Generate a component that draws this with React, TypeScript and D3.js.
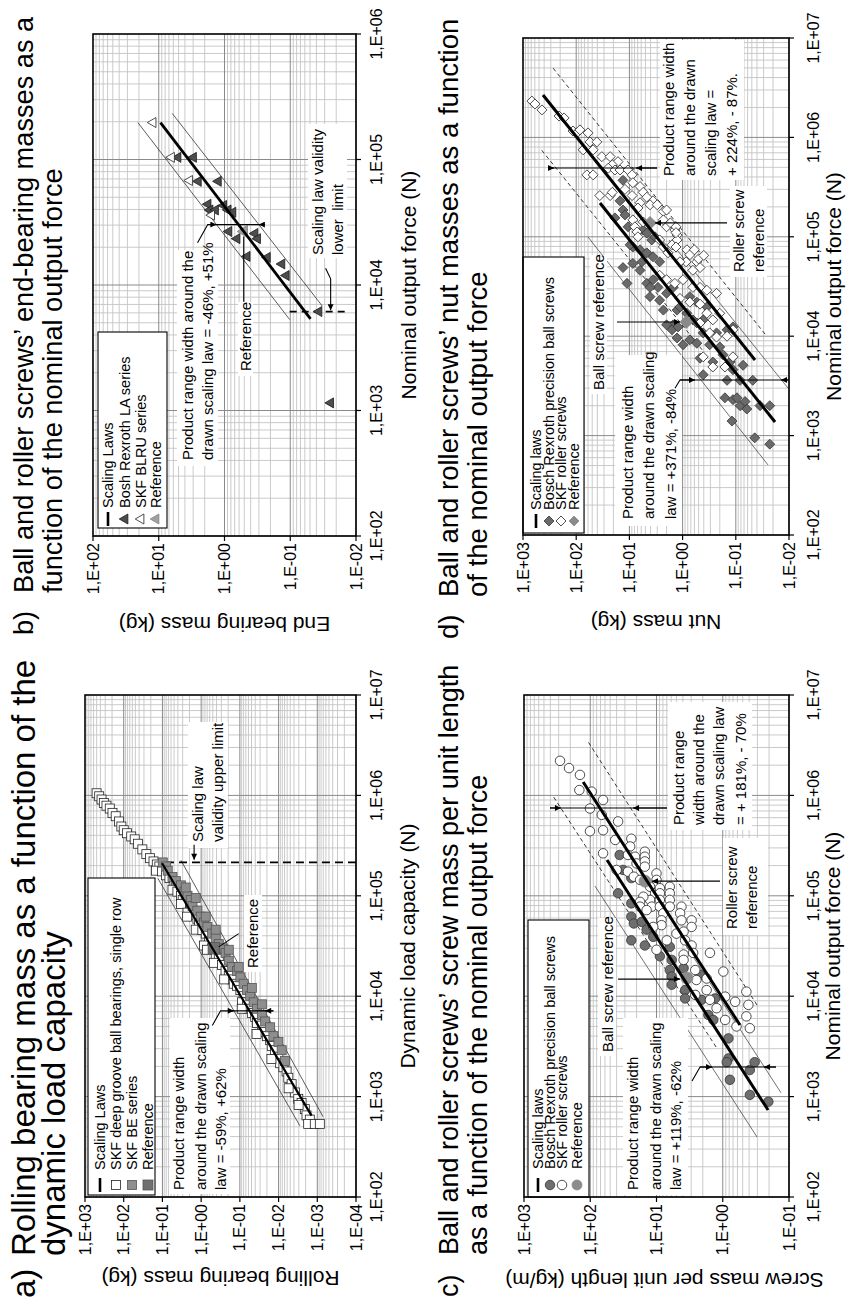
import React from 'react';
import * as d3 from 'd3';

type Pt = [number, number]; // [force (N), mass]

// ---------------- Panel a : rolling bearings ----------------
const aLaw: Pt[] = [[646, 0.00141], [2.11e5, 10.2]];
const aBandUpper: Pt[] = [[511, 0.00281], [1.5e5, 13.2]];
const aBandLower: Pt[] = [[631, 0.00071], [2.26e5, 3.33]];
const aValidity: Pt[] = [[2.15e5, 8.1], [2.15e5, 1e-4]];
const aDeepGroove: Pt[] = [
  [1.05e6, 502], [9.8e5, 430], [9.1e5, 374], [8.4e5, 326], [7.9e5, 279], [7.4e5, 229], [6.7e5, 195],
  [6.2e5, 161], [5.5e5, 132], [4.9e5, 115], [4.5e5, 100], [4.2e5, 82], [3.9e5, 64], [3.65e5, 52],
  [3.3e5, 43], [2.9e5, 33], [2.6e5, 26], [2.37e5, 21], [2.2e5, 17], [2.05e5, 14], [1.96e5, 12],
  [1.78e5, 14.6], [1.75e5, 10.2], [1.6e5, 8.1], [1.5e5, 6.6], [1.33e5, 4.9], [1.15e5, 5.5], [1.1e5, 4.1],
  [1.0e5, 3.3], [9.1e4, 3.0], [8.7e4, 2.5], [8.3e4, 3.3], [7.9e4, 1.85], [6.8e4, 2.25], [6.5e4, 1.52],
  [5.9e4, 1.25], [5.1e4, 1.13], [4.6e4, 1.38], [4.55e4, 0.93], [4.2e4, 0.76], [3.5e4, 0.63], [3.2e4, 0.84],
  [3.0e4, 0.52], [2.6e4, 0.42], [2.37e4, 0.35], [2.15e4, 0.47], [2.05e4, 0.29], [1.78e4, 0.234],
  [1.6e4, 0.193], [1.47e4, 0.158], [1.33e4, 0.144], [1.27e4, 0.118], [1.15e4, 0.097], [1.0e4, 0.08],
  [8.7e3, 0.088], [8.7e3, 0.065], [7.5e3, 0.059], [6.8e3, 0.049], [6.2e3, 0.04], [5.4e3, 0.036],
  [5.1e3, 0.027], [4.4e3, 0.0244], [4.0e3, 0.0201], [3.65e3, 0.0165], [3.2e3, 0.015], [2.9e3, 0.0123],
  [2.5e3, 0.0101], [2.15e3, 0.0091], [1.96e3, 0.0075], [1.78e3, 0.0062], [1.54e3, 0.0056], [1.33e3, 0.0046],
  [1.1e3, 0.0038], [950, 0.0031], [865, 0.00255], [750, 0.0021], [650, 0.0019], [590, 0.00156],
  [535, 0.00172], [535, 0.00116], [535, 0.00086], [6.2e4, 2.3], [2.9e4, 0.71], [1.47e4, 0.254],
  [7.5e3, 0.0895], [4.2e3, 0.037], [2.37e3, 0.0153], [1.21e3, 0.0055], [826, 0.00304],
];
const aBE: Pt[] = [
  [2.15e5, 9.8], [1.96e5, 8.1], [1.78e5, 7.3], [1.54e5, 5.5], [1.4e5, 4.5], [1.27e5, 3.3], [1.1e5, 2.7],
  [1.0e5, 2.25], [9.1e4, 1.85], [7.9e4, 1.67], [7.1e4, 1.25], [6.2e4, 1.03], [5.4e4, 0.84], [4.9e4, 0.69],
  [4.2e4, 0.52], [3.8e4, 0.42], [3.3e4, 0.35], [3.0e4, 0.29], [2.7e4, 0.234], [2.26e4, 0.193],
  [1.96e4, 0.158], [1.78e4, 0.118], [1.54e4, 0.097], [1.33e4, 0.08], [1.15e4, 0.065], [1.0e4, 0.054],
  [8.7e3, 0.044], [7.5e3, 0.036], [6.5e3, 0.027], [5.6e3, 0.0222], [4.9e3, 0.0165], [4.0e3, 0.0136],
  [3.5e3, 0.0101], [2.9e3, 0.0083], [2.26e3, 0.0068], [1.21e5, 2.5], [9.5e4, 1.38], [6.2e4, 0.76],
  [4.6e4, 0.42], [2.9e4, 0.193], [1.96e4, 0.107], [1.21e4, 0.049], [8.3e3, 0.027],
];
const aReference: Pt[] = [[3.0e4, 0.47]];

// ---------------- Panel b : end bearings ----------------
const bLaw: Pt[] = [[5380, 0.0492], [1.97e5, 9.42]];
const bBandUpper: Pt[] = [[5.3e3, 0.102], [1.97e5, 20.8]];
const bBandLower: Pt[] = [[6.8e3, 0.0326], [2.33e5, 6.24]];
const bValidity: Pt[] = [[6.14e3, 0.102], [6.14e3, 0.0127]];
const bBosch: Pt[] = [
  [1.04e5, 5.1], [1.04e5, 2.96], [6.7e4, 2.5], [6.7e4, 1.24], [4.4e4, 1.78], [3.96e4, 1.66], [3.96e4, 1.37],
  [4.3e4, 1.03], [3.96e4, 0.88], [3.8e4, 0.745], [2.67e4, 0.857], [2.34e4, 0.645], [2.57e4, 0.345],
  [2.34e4, 0.314], [1.69e4, 0.453], [1.66e4, 0.223], [1.47e4, 0.134], [1.19e4, 0.115], [6.14e3, 0.0366],
  [1.15e3, 0.0243],
];
const bSKF: Pt[] = [[1.97e5, 12.2], [1.04e5, 6.4], [6.8e4, 3.4], [3.6e4, 1.57]];
const bReference: Pt[] = [[2.67e4, 0.505]];

// ---------------- Panel c : screw mass per unit length ----------------
const cLawRoller: Pt[] = [[5.16e3, 0.55], [1.36e6, 128]];
const cLawBall: Pt[] = [[736, 0.207], [2.27e5, 55.8]];
const cRollerUpper: Pt[] = [[3.12e3, 1.26], [9.86e5, 365]];
const cRollerLower: Pt[] = [[8.17e3, 0.304], [3.56e6, 112]];
const cBallUpper: Pt[] = [[396, 0.304], [1.25e5, 84.7]];
const cBallLower: Pt[] = [[1.09e3, 0.132], [4.56e4, 5.08]];
const cSKF: Pt[] = [
  [2.21e6, 286], [1.87e6, 209], [1.6e6, 143], [1.13e6, 146], [1.09e6, 95], [7.4e5, 101], [9.0e5, 64],
  [6.4e5, 67], [4.4e5, 101], [4.5e5, 64], [2.65e5, 64], [5.5e5, 38], [3.6e5, 42], [3.7e5, 24], [3.1e5, 25],
  [1.81e5, 40], [2.55e5, 27], [2.45e5, 21], [2.1e5, 20], [2.75e5, 15], [2.45e5, 15], [2.2e5, 15],
  [1.95e5, 15], [1.74e5, 27], [1.55e5, 22], [1.44e5, 17.7], [1.67e5, 10], [1.44e5, 10], [1.23e5, 10],
  [1.23e5, 12.5], [1.06e5, 10.5], [9.1e4, 12.5], [7.8e4, 11.8], [1.19e5, 8.9], [1.06e5, 8.9], [9.1e4, 8.9],
  [7.8e4, 8.9], [1.23e5, 6.3], [1.06e5, 6.3], [9.1e4, 6.3], [7.8e4, 6.3], [6.7e4, 7.9], [5.7e4, 8.4],
  [5.1e4, 8.4], [4.9e4, 11.2], [9.8e4, 15.8], [8.7e4, 17.7], [7.8e4, 17.7], [7.2e4, 14.1], [7.8e4, 4.2],
  [6.7e4, 4.4], [5.7e4, 4.2], [5.7e4, 2.95], [4.9e4, 2.95], [4.4e4, 3.9], [3.6e4, 3.7], [4.2e4, 5.0],
  [3.6e4, 7.0], [3.2e4, 2.95], [2.6e4, 3.9], [2.3e4, 3.9], [2.7e4, 2.8], [2.7e4, 1.56], [1.82e4, 2.6],
  [1.45e4, 2.5], [1.5e4, 1.75], [1.03e4, 2.6], [1.15e4, 1.75], [9.2e3, 1.56], [1.76e4, 0.98], [9.9e3, 0.92],
  [7.6e3, 1.24], [8.8e3, 0.65], [1.11e4, 0.44], [8.2e3, 0.41], [6.3e3, 0.44], [4.8e3, 0.39], [5.0e3, 0.62],
  [5.8e3, 0.92], [2.9e4, 10],
];
const cBosch: Pt[] = [
  [2.55e5, 36], [1.81e5, 32], [1.5e5, 24], [1.06e5, 38], [8.4e4, 24], [6.2e4, 24], [5.3e4, 22], [3.6e4, 24],
  [5.5e4, 16.7], [4.6e4, 14.1], [3.2e4, 15], [3.9e4, 11.2], [2.5e4, 8.9], [3.1e4, 6.3], [2.3e4, 5.9],
  [1.82e4, 6.3], [1.57e4, 5.9], [1.3e4, 5.9], [1.9e4, 3.9], [1.15e4, 3.7], [9.5e3, 3.7], [1.63e4, 2.2],
  [9.2e3, 2.1], [6.5e3, 1.65], [5.8e3, 1.39], [9.5e3, 1.31], [3.8e3, 0.82], [2.4e3, 0.82], [2.2e3, 0.87],
  [1.47e3, 0.78], [1.84e3, 0.39], [2.2e3, 0.33], [1.04e3, 0.39], [890, 0.205],
];
const cReference: Pt[] = [[1.52e4, 3.47], [1.4e5, 14.9]];

// ---------------- Panel d : nut masses ----------------
const dLawRoller: Pt[] = [[5.77e3, 0.0436], [2.67e6, 421]];
const dLawBall: Pt[] = [[1.37e3, 0.0183], [2.19e5, 35.7]];
const dRollerLower: Pt[] = [[1.05e4, 0.0282], [4.99e6, 273]];
const dRollerUpper: Pt[] = [[7.3e3, 0.43], [7.8e5, 479]];
const dBallUpper: Pt[] = [[507, 0.0248], [9.95e4, 60]];
const dBallLower: Pt[] = [[3.0e3, 0.0104], [9.3e4, 1.8]];
const dSKF: Pt[] = [
  [2.32e6, 680], [2.17e6, 595], [1.89e6, 440], [1.64e6, 210], [1.57e6, 169], [1.16e6, 115], [1.11e6, 97],
  [1.19e6, 85], [1.11e6, 60], [9.0e5, 55], [9.0e5, 41], [7.5e5, 74], [7.5e5, 48], [6.4e5, 33], [6.4e5, 23],
  [5.7e5, 16.4], [5.3e5, 21], [4.9e5, 25], [4.7e5, 18.7], [4.7e5, 15], [4.7e5, 10.6], [4.2e5, 8.9],
  [4.2e5, 63], [4.2e5, 48], [2.6e5, 36], [2.6e5, 23], [2.8e5, 21], [3.5e5, 8.6], [3.2e5, 6.3], [2.8e5, 5.5],
  [3.0e5, 12.1], [2.6e5, 8.9], [2.5e5, 4.7], [2.3e5, 3.6], [2.1e5, 4.1], [2.1e5, 3.0], [1.8e5, 2.3],
  [1.86e5, 2.0], [2.2e5, 6.3], [1.95e5, 6.9], [1.48e5, 8.6], [1.26e5, 7.9], [1.12e5, 7.2], [1.0e5, 6.9],
  [1.41e5, 5.5], [1.48e5, 2.3], [1.26e5, 2.0], [1.38e5, 1.7], [1.17e5, 1.4], [1.04e5, 1.27], [9.3e4, 1.27],
  [8.3e4, 1.58], [7.9e4, 2.3], [6.9e4, 1.88], [9.3e4, 2.7], [7.4e4, 0.83], [6.6e4, 0.73], [5.6e4, 0.86],
  [5.6e4, 0.54], [4.9e4, 0.47], [4.6e4, 0.64], [5.6e4, 1.12], [4.1e4, 2.7], [3.7e4, 2.0], [3.4e4, 1.4],
  [3.7e4, 0.98], [3.1e4, 0.64], [3.1e4, 0.47], [2.9e4, 0.35], [2.7e4, 0.23], [2.4e4, 1.12], [2.2e4, 0.73],
  [2.1e4, 0.47], [1.7e4, 0.35], [1.46e4, 0.27], [1.7e4, 0.2], [1.36e4, 0.47], [1.08e4, 0.31], [9.8e3, 0.23],
  [1.0e4, 0.146], [1.16e4, 0.113], [6.2e3, 0.41], [4.9e3, 0.27], [4.9e3, 0.16], [6.2e3, 0.113],
  [1.26e5, 1.33], [1.1e5, 1.33], [7.9e4, 1.33], [7.4e4, 0.6], [6.0e4, 0.5], [6.5e4, 0.4],
];
const dBosch: Pt[] = [
  [3.7e5, 13.2], [2.3e5, 15], [1.86e5, 13.2], [1.66e5, 12.1], [1.17e5, 5.5], [1.09e5, 4.7], [9.3e4, 3.8],
  [1.0e5, 3.3], [7.9e4, 8.6], [7.4e4, 6.3], [6.9e4, 4.7], [6.3e4, 3.6], [5.6e4, 2.7], [4.6e4, 6.3],
  [3.4e4, 4.7], [3.7e4, 3.6], [3.1e4, 2.9], [2.7e4, 2.0], [3.1e4, 1.5], [2.5e4, 4.1], [5.4e4, 8.6],
  [4.9e4, 13.2], [3.4e4, 11.1], [1.83e4, 1.27], [1.97e4, 1.12], [1.7e4, 0.83], [1.46e4, 0.64], [1.3e4, 1.5],
  [1.3e4, 2.0], [1.16e4, 1.58], [1.24e4, 1.22], [1.36e4, 0.54], [1.46e4, 0.41], [9.2e3, 0.73], [8.5e3, 0.54],
  [9.6e3, 1.27], [8.2e3, 0.98], [1.08e4, 0.41], [8.2e3, 0.31], [1.08e4, 0.23], [1.16e4, 0.146],
  [1.24e4, 0.113], [6.0e3, 0.47], [5.5e3, 0.27], [6.5e3, 0.174], [5.5e3, 0.128], [4.6e3, 0.113],
  [3.6e3, 0.146], [3.6e3, 0.083], [3.6e3, 0.048], [2.4e3, 0.16], [2.3e3, 0.113], [2.4e3, 0.095],
  [2.0e3, 0.083], [2.2e3, 0.067], [1.85e3, 0.062], [2.0e3, 0.035], [2.0e3, 0.023], [1.4e3, 0.118],
  [950, 0.044], [820, 0.023], [8.3e4, 9.7], [5.6e4, 5.8], [3.1e4, 4.1], [2.3e4, 2.7], [1.83e4, 2.3],
  [2.5e4, 0.73], [2.2e4, 0.54], [1.97e4, 0.35], [7.8e3, 0.2], [5.1e3, 0.073], [1.55e5, 18.7], [1.26e5, 10.6],
  [4.1e3, 0.41],
];
const dReference: Pt[] = [[1.38e5, 4.1], [1.39e4, 0.85]];

// ---------------- rendering ----------------
const FONT = "'Liberation Sans', Arial, Helvetica, sans-serif";

type Shape = 'square' | 'triangle' | 'diamond' | 'circle';
interface Series { data: Pt[]; shape: Shape; size: number; fill: string; stroke: string; sw?: number }
interface LineDef { data: Pt[]; width: number; color: string; dash?: string }
interface ArrowDef { data: Pt[]; head?: boolean }
interface Note { box: [number, number, number, number]; startY: number; lines: [string, number][] }
interface LegItem { label: string; line?: boolean; s?: Series }
interface PanelCfg {
  frame: { left: number; top: number; right: number; bottom: number };
  xDomain: [number, number];
  yDomain: [number, number];
  tag: string;
  titleLines: string[];
  titleSize: number;
  titleStartY: number;
  titleIndent: number;
  titleX: [number, number];
  xTitle: string;
  xTitleOff: number;
  xTickOff: number;
  yTitle: string;
  yTitleU: number;
  yTitleShift: number;
  legend: { box: [number, number, number, number]; rows: number[]; symU: number; textU: number; items: LegItem[] };
  lines: LineDef[];
  laws: LineDef[];
  series: Series[];
  arrows: ArrowDef[];
  notes: Note[];
}

function Marker({ shape, cx, cy, size, fill, stroke, sw }: any) {
  const r = size / 2;
  const common = { fill, stroke, strokeWidth: sw ?? 0.8 };
  if (shape === 'square') return <rect x={cx - r} y={cy - r} width={size} height={size} {...common} />;
  if (shape === 'circle') return <circle cx={cx} cy={cy} r={r} {...common} />;
  if (shape === 'diamond')
    return <path d={`M${cx},${cy - r}L${cx + r},${cy}L${cx},${cy + r}L${cx - r},${cy}Z`} {...common} />;
  const h = size * 0.866;
  return (
    <path
      d={`M${cx},${cy - (2 * h) / 3}L${cx + r},${cy + h / 3}L${cx - r},${cy + h / 3}Z`}
      {...common}
    />
  );
}

const fmtExp = (v: number) => {
  const e = Math.round(Math.log10(v));
  return `1,E${e < 0 ? '-' : '+'}${String(Math.abs(e)).padStart(2, '0')}`;
};

function Panel({ c }: { c: PanelCfg }) {
  const { left, top, right, bottom } = c.frame;
  const W = bottom - top;
  const H = right - left;
  const x = d3.scaleLog().domain(c.xDomain).range([0, W]);
  const y = d3.scaleLog().domain(c.yDomain).range([H, 0]);
  const U = (Y: number) => bottom - Y;
  const V = (X: number) => X - left;
  const line = d3.line<Pt>().x((d) => x(d[0])).y((d) => y(d[1]));

  const xe0 = Math.round(Math.log10(c.xDomain[0]));
  const xe1 = Math.round(Math.log10(c.xDomain[1]));
  const ye0 = Math.round(Math.log10(c.yDomain[0]));
  const ye1 = Math.round(Math.log10(c.yDomain[1]));
  const gx: { v: number; major: boolean }[] = [];
  for (let e = xe0; e < xe1; e++) for (let k = 1; k <= 9; k++) gx.push({ v: k * Math.pow(10, e), major: k === 1 });
  const gy: { v: number; major: boolean }[] = [];
  for (let e = ye0; e < ye1; e++) for (let k = 1; k <= 9; k++) gy.push({ v: k * Math.pow(10, e), major: k === 1 });
  const xMaj = d3.range(xe0, xe1 + 1).map((e) => Math.pow(10, e));
  const yMaj = d3.range(ye0, ye1 + 1).map((e) => Math.pow(10, e));
  const tu = U(c.titleStartY);

  return (
    <g transform={`translate(${left},${bottom}) rotate(-90)`} fontFamily={FONT}>
      <rect x={0} y={0} width={W} height={H} fill="#fff" />
      {gx.filter((g) => !g.major).map((g, i) => (
        <line key={'gxm' + i} x1={x(g.v)} x2={x(g.v)} y1={0} y2={H} stroke="#c4c4c4" strokeWidth={0.9} />
      ))}
      {gy.filter((g) => !g.major).map((g, i) => (
        <line key={'gym' + i} x1={0} x2={W} y1={y(g.v)} y2={y(g.v)} stroke="#c4c4c4" strokeWidth={0.9} />
      ))}
      {gx.filter((g) => g.major).map((g, i) => (
        <line key={'gxM' + i} x1={x(g.v)} x2={x(g.v)} y1={0} y2={H} stroke="#8a8a8a" strokeWidth={1} />
      ))}
      {gy.filter((g) => g.major).map((g, i) => (
        <line key={'gyM' + i} x1={0} x2={W} y1={y(g.v)} y2={y(g.v)} stroke="#8a8a8a" strokeWidth={1} />
      ))}
      {c.lines.map((l, i) => (
        <path key={'l' + i} d={line(l.data) || ''} fill="none" stroke={l.color} strokeWidth={l.width} strokeDasharray={l.dash} />
      ))}
      {c.series.map((s, si) => (
        <g key={'s' + si}>
          {s.data.map((d, i) => (
            <Marker key={i} shape={s.shape} cx={x(d[0])} cy={y(d[1])} size={s.size} fill={s.fill} stroke={s.stroke} sw={s.sw} />
          ))}
        </g>
      ))}
      {c.laws.map((l, i) => (
        <path key={'law' + i} d={line(l.data) || ''} fill="none" stroke={l.color} strokeWidth={l.width} />
      ))}
      {c.notes.map((n, i) => (
        <g key={'n' + i}>
          <rect x={U(n.box[3])} y={V(n.box[0])} width={n.box[3] - n.box[1]} height={n.box[2] - n.box[0]} fill="#fff" />
          {n.lines.map(([t, X], j) => (
            <text key={j} x={U(n.startY)} y={V(X)} fontSize={15} dominantBaseline="central" style={{ whiteSpace: 'pre' }}>
              {t}
            </text>
          ))}
        </g>
      ))}
      {c.arrows.map((a, i) => (
        <path key={'a' + i} d={line(a.data) || ''} fill="none" stroke="#000" strokeWidth={1.1}
          markerEnd={a.head ? 'url(#arrowHead)' : undefined} />
      ))}
      {/* legend */}
      <rect x={c.legend.box[0]} y={c.legend.box[1]} width={c.legend.box[2] - c.legend.box[0]}
        height={c.legend.box[3] - c.legend.box[1]} fill="#fff" stroke="#000" strokeWidth={1.1} />
      {c.legend.items.map((it, i) => (
        <g key={'lg' + i}>
          {it.line ? (
            <line x1={c.legend.symU - 7} x2={c.legend.symU + 7} y1={c.legend.rows[i]} y2={c.legend.rows[i]} stroke="#000" strokeWidth={2.6} />
          ) : (
            <Marker shape={it.s!.shape} cx={c.legend.symU} cy={c.legend.rows[i]} size={Math.min(it.s!.size, 10)} fill={it.s!.fill} stroke={it.s!.stroke} sw={it.s!.sw} />
          )}
          <text x={c.legend.textU} y={c.legend.rows[i]} fontSize={14.5} dominantBaseline="central">{it.label}</text>
        </g>
      ))}
      <rect x={0} y={0} width={W} height={H} fill="none" stroke="#000" strokeWidth={1.6} />
      {xMaj.map((t, i) => (
        <g key={'xt' + i}>
          <line x1={x(t)} x2={x(t)} y1={H} y2={H + 5} stroke="#000" strokeWidth={1.2} />
          <text x={x(t)} y={H + c.xTickOff} fontSize={16} textAnchor="middle" dominantBaseline="central">{fmtExp(t)}</text>
        </g>
      ))}
      {yMaj.map((t, i) => (
        <g key={'yt' + i}>
          <line x1={0} x2={-5} y1={y(t)} y2={y(t)} stroke="#000" strokeWidth={1.2} />
          <text x={-7} y={y(t)} fontSize={16} textAnchor="end" dominantBaseline="central">{fmtExp(t)}</text>
        </g>
      ))}
      <text x={W / 2} y={H + c.xTitleOff} fontSize={21} textAnchor="middle" dominantBaseline="central">{c.xTitle}</text>
      <text transform={`translate(${c.yTitleU},${H / 2 + c.yTitleShift}) rotate(-90)`} fontSize={21} textAnchor="middle" dominantBaseline="central">
        {c.yTitle}
      </text>
      <text x={tu} y={V(c.titleX[0])} fontSize={c.titleSize}>{c.tag}</text>
      <text x={tu + c.titleIndent} y={V(c.titleX[0])} fontSize={c.titleSize}>{c.titleLines[0]}</text>
      <text x={tu + c.titleIndent} y={V(c.titleX[1])} fontSize={c.titleSize}>{c.titleLines[1]}</text>
    </g>
  );
}

// series styles
const aSDeep: Series = { data: aDeepGroove, shape: 'square', size: 9, fill: '#fff', stroke: '#222' };
const aSBE: Series = { data: aBE, shape: 'square', size: 9, fill: '#8e8e8e', stroke: '#555' };
const aSRef: Series = { data: aReference, shape: 'square', size: 11.5, fill: '#707070', stroke: '#555' };
const bSBosch: Series = { data: bBosch, shape: 'triangle', size: 10, fill: '#4d4d4d', stroke: '#1a1a1a' };
const bSSKF: Series = { data: bSKF, shape: 'triangle', size: 10, fill: '#fff', stroke: '#222' };
const bSRef: Series = { data: bReference, shape: 'triangle', size: 12, fill: '#a0a0a0', stroke: '#808080' };
const cSBosch: Series = { data: cBosch, shape: 'circle', size: 9.5, fill: '#6e6e6e', stroke: '#333' };
const cSSKF: Series = { data: cSKF, shape: 'circle', size: 9.5, fill: '#fff', stroke: '#222' };
const cSRef: Series = { data: cReference, shape: 'circle', size: 12, fill: '#8c8c8c', stroke: '#8c8c8c' };
const dSBosch: Series = { data: dBosch, shape: 'diamond', size: 10, fill: '#6a6a6a', stroke: '#333' };
const dSSKF: Series = { data: dSKF, shape: 'diamond', size: 10, fill: '#fff', stroke: '#222' };
const dSRef: Series = { data: dReference, shape: 'diamond', size: 13, fill: '#8a8a8a', stroke: '#8a8a8a' };

const panelA: PanelCfg = {
  frame: { left: 85, top: 695, right: 356, bottom: 1197 },
  xDomain: [1e2, 1e7], yDomain: [1e-4, 1e3],
  tag: 'a)', titleLines: ['Rolling bearing mass as a function of the', 'dynamic load capacity'],
  titleSize: 33, titleStartY: 1298, titleIndent: 42, titleX: [35, 65],
  xTitle: 'Dynamic load capacity (N)', xTitleOff: 51, xTickOff: 20,
  yTitle: 'Rolling bearing mass (kg)', yTitleU: -81, yTitleShift: 0,
  legend: {
    box: [2, 3, 319, 70], rows: [15, 31, 47, 63], symU: 12, textU: 27,
    items: [
      { label: 'Scaling Laws', line: true },
      { label: 'SKF deep groove ball bearings, single row', s: aSDeep },
      { label: 'SKF BE series', s: aSBE },
      { label: 'Reference', s: aSRef },
    ],
  },
  lines: [
    { data: aBandUpper, width: 0.8, color: '#333' },
    { data: aBandLower, width: 0.8, color: '#333' },
    { data: aValidity, width: 1.6, color: '#000', dash: '8,5' },
  ],
  laws: [{ data: aLaw, width: 2.2, color: '#000' }],
  series: [aSDeep, aSBE, aSRef],
  arrows: [
    { data: [[3.22e5, 1.52], [2.28e5, 1.52]], head: true },
    { data: [[5.1e3, 0.515], [7.15e3, 0.315], [7.15e3, 0.0136]] },
    { data: [[7.15e3, 0.2], [7.15e3, 0.144]], head: true },
    { data: [[7.15e3, 0.0136], [7.15e3, 0.0222]], head: true },
    { data: [[4.2e4, 0.107], [3.1e4, 0.35]] },
  ],
  notes: [
    { box: [188, 722, 228, 848], startY: 842, lines: [['Scaling law', 197], ['validity upper limit', 217]] },
    { box: [244, 895, 262, 972], startY: 968, lines: [['Reference', 252]] },
    { box: [170, 1018, 230, 1194], startY: 1190, lines: [['Product range width', 178], ['around the drawn scaling', 200], ['law = -59%, +62%', 220]] },
  ],
};

const panelB: PanelCfg = {
  frame: { left: 93, top: 34, right: 356, bottom: 536 },
  xDomain: [1e2, 1e6], yDomain: [1e-2, 1e2],
  tag: 'b)', titleLines: ['Ball and roller screws\u2019 end-bearing masses as a', 'function of the nominal output force'],
  titleSize: 27.2, titleStartY: 635, titleIndent: 42, titleX: [33, 62],
  xTitle: 'Nominal output force (N)', xTitleOff: 52, xTickOff: 20,
  yTitle: 'End bearing mass (kg)', yTitleU: -88, yTitleShift: 0,
  legend: {
    box: [8, 5, 204, 74], rows: [15, 32, 48, 63], symU: 17, textU: 28,
    items: [
      { label: 'Scaling Laws', line: true },
      { label: 'Bosh Rexroth LA series', s: bSBosch },
      { label: 'SKF BLRU series', s: bSSKF },
      { label: 'Reference', s: bSRef },
    ],
  },
  lines: [
    { data: bBandUpper, width: 0.8, color: '#333' },
    { data: bBandLower, width: 0.8, color: '#333' },
    { data: bValidity, width: 1.6, color: '#000', dash: '7,5' },
  ],
  laws: [{ data: bLaw, width: 2.8, color: '#000' }],
  series: [bSBosch, bSSKF, bSRef],
  arrows: [
    { data: [[2.17e4, 2.57], [3.03e4, 1.8], [3.03e4, 0.243]] },
    { data: [[3.03e4, 1.6], [3.03e4, 1.33]], head: true },
    { data: [[3.03e4, 0.243], [3.03e4, 0.3]], head: true },
    { data: [[7.35e3, 0.51], [2.44e4, 0.51]] },
    { data: [[1.36e4, 0.029], [1.12e4, 0.0243], [6.28e3, 0.0243]], head: true },
  ],
  notes: [
    { box: [177, 250, 218, 466], startY: 460, lines: [['Product range width around the', 187], ['drawn scaling law = -46%, +51%', 207]] },
    { box: [238, 302, 253, 376], startY: 371, lines: [['Reference', 245]] },
    { box: [308, 124, 347, 258], startY: 255, lines: [['Scaling law validity', 317], ['lower  limit', 337]] },
  ],
};

const panelC: PanelCfg = {
  frame: { left: 524, top: 695, right: 789, bottom: 1197 },
  xDomain: [1e2, 1e7], yDomain: [1e-1, 1e3],
  tag: 'c)', titleLines: ['Ball and roller screws\u2019 screw mass per unit length', 'as a function of the nominal output force'],
  titleSize: 27, titleStartY: 1297, titleIndent: 42, titleX: [458, 487],
  xTitle: 'Nominal output force (N)', xTitleOff: 43, xTickOff: 24,
  yTitle: 'Screw mass per unit length (kg/m)', yTitleU: -83, yTitleShift: 8,
  legend: {
    box: [0, 4, 277, 65], rows: [14, 26, 38, 53], symU: 12, textU: 28,
    items: [
      { label: 'Scaling laws', line: true },
      { label: 'Bosch Rexroth precision ball screws', s: cSBosch },
      { label: 'SKF roller screws', s: cSSKF },
      { label: 'Reference', s: cSRef },
    ],
  },
  lines: [
    { data: cRollerUpper, width: 0.9, color: '#222', dash: '4,3' },
    { data: cRollerLower, width: 0.9, color: '#222', dash: '4,3' },
    { data: cBallUpper, width: 0.7, color: '#333' },
    { data: cBallLower, width: 0.7, color: '#333' },
  ],
  laws: [{ data: cLawRoller, width: 3, color: '#000' }, { data: cLawBall, width: 3, color: '#000' }],
  series: [cSBosch, cSSKF, cSRef],
  arrows: [
    { data: [[7.5e5, 405], [7.5e5, 6.95]] },
    { data: [[7.5e5, 405], [7.5e5, 277]], head: true },
    { data: [[7.5e5, 6.95], [7.5e5, 22.6]], head: true },
    { data: [[1.43e3, 2.91], [1.97e3, 2.2], [1.97e3, 0.157]] },
    { data: [[1.97e3, 2.2], [1.97e3, 1.45]], head: true },
    { data: [[1.97e3, 0.157], [1.97e3, 0.238]], head: true },
    { data: [[1.48e4, 38], [1.48e4, 4.4]], head: true },
    { data: [[1.4e5, 1.1], [1.4e5, 11.7]], head: true },
  ],
  notes: [
    { box: [668, 702, 752, 830], startY: 825, lines: [['Product range', 678], ['width around the', 698], ['drawn scaling law', 718], ['= + 181%, - 70%', 740]] },
    { box: [723, 838, 768, 935], startY: 929, lines: [['Roller screw', 731], ['reference', 751]] },
    { box: [598, 918, 616, 1056], startY: 1052, lines: [['Ball screw reference', 607]] },
    { box: [623, 1018, 688, 1195], startY: 1190, lines: [['Product range width', 632], ['around the drawn scaling', 655], ['law = +119%, -62%', 675]] },
  ],
};

const panelD: PanelCfg = {
  frame: { left: 523, top: 38, right: 789, bottom: 535 },
  xDomain: [1e2, 1e7], yDomain: [1e-2, 1e3],
  tag: 'd)', titleLines: ['Ball and roller screws\u2019 nut masses as a function', 'of the nominal output force'],
  titleSize: 27.5, titleStartY: 639, titleIndent: 42, titleX: [458, 487],
  xTitle: 'Nominal output force (N)', xTitleOff: 44, xTickOff: 24,
  yTitle: 'Nut mass (kg)', yTitleU: -87, yTitleShift: 0,
  legend: {
    box: [2, 0, 278, 61], rows: [13, 26, 38, 51], symU: 14, textU: 25,
    items: [
      { label: 'Scaling laws', line: true },
      { label: 'Bosch Rexroth precision ball screws', s: dSBosch },
      { label: 'SKF roller screws', s: dSSKF },
      { label: 'Reference', s: dSRef },
    ],
  },
  lines: [
    { data: dRollerUpper, width: 0.9, color: '#222', dash: '4,3' },
    { data: dRollerLower, width: 0.9, color: '#222', dash: '4,3' },
    { data: dBallUpper, width: 0.7, color: '#333' },
    { data: dBallLower, width: 0.7, color: '#333' },
  ],
  laws: [{ data: dLawRoller, width: 3, color: '#000' }, { data: dLawBall, width: 3, color: '#000' }],
  series: [dSBosch, dSSKF, dSRef],
  arrows: [
    { data: [[4.92e5, 339], [4.92e5, 3.03]] },
    { data: [[4.92e5, 339], [4.92e5, 261]], head: true },
    { data: [[4.92e5, 3.03], [4.92e5, 7.5]], head: true },
    { data: [[3.0e3, 1.39], [3.63e3, 1.12], [3.63e3, 0.0101]] },
    { data: [[3.63e3, 1.12], [3.63e3, 0.585]], head: true },
    { data: [[3.63e3, 0.0101], [3.63e3, 0.0141]], head: true },
    { data: [[1.39e4, 17.1], [1.39e4, 1.12]], head: true },
    { data: [[1.38e5, 0.146], [1.38e5, 3.3]], head: true },
  ],
  notes: [
    { box: [660, 40, 744, 180], startY: 176, lines: [['Product range width', 668], ['around the drawn', 689], ['scaling law =', 710], ['+ 224%, - 87%.', 731]] },
    { box: [730, 186, 767, 277], startY: 272, lines: [['Roller screw', 738], ['reference', 758]] },
    { box: [590, 255, 607, 394], startY: 390, lines: [['Ball screw reference', 598]] },
    { box: [615, 355, 682, 526], startY: 519, lines: [['Product range width', 627], ['around the drawn scaling', 648], ['law = +371%, -84%', 670]] },
  ],
};

const PANELS = [panelA, panelB, panelC, panelD];

export default function App() {
  return (
    <svg width={850} height={1303} viewBox="0 0 850 1303" style={{ position: 'absolute', left: 0, top: 0, display: 'block' }}>
      <defs>
        <marker id="arrowHead" viewBox="0 0 10 10" refX={10} refY={5} markerWidth={8} markerHeight={6}
          markerUnits="userSpaceOnUse" orient="auto">
          <path d="M0,0L10,5L0,10Z" fill="#000" />
        </marker>
      </defs>
      <rect x={0} y={0} width={850} height={1303} fill="#fff" />
      {PANELS.map((p, i) => <Panel key={i} c={p} />)}
    </svg>
  );
}
